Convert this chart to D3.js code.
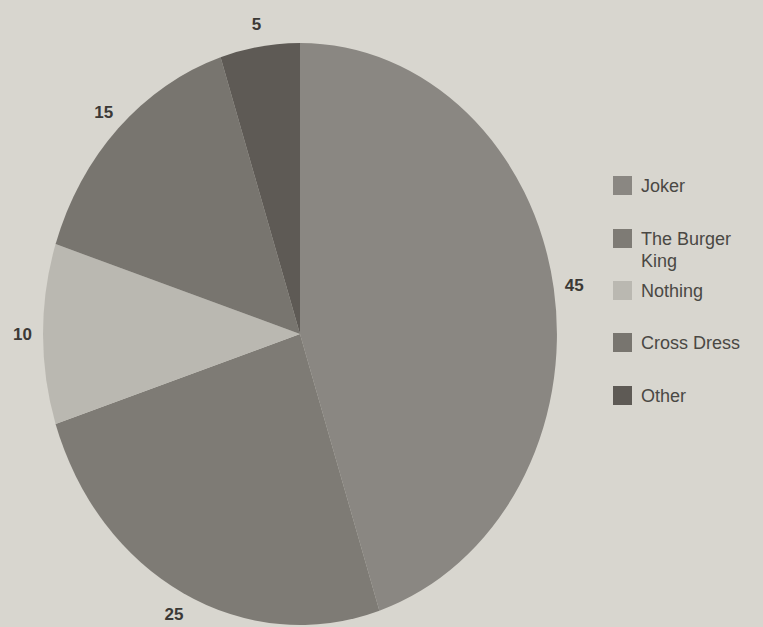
<!DOCTYPE html>
<html>
<head>
<meta charset="utf-8">
<script src="https://cdn.jsdelivr.net/npm/d3@7"></script>
<style>
  body { margin: 0; background: #d8d6cf; }
  svg { display: block; }
</style>
</head>
<body>
<div id="chart"></div>
<script>
var categories = ["Joker", "The Burger King", "Nothing", "Cross Dress", "Other"];
var values = [45, 25, 10, 15, 5];
var colors = ["#8a8782", "#7e7b75", "#bab8b1", "#78756f", "#5e5a55"];

var width = 763, height = 627;
var cx = 300, cy = 334, rx = 257, ry = 291;

var svg = d3.select("#chart").append("svg")
    .attr("width", width)
    .attr("height", height);

svg.append("rect")
    .attr("width", width)
    .attr("height", height)
    .attr("fill", "#d8d6cf");

var data = categories.map(function(c, i){ return {name: c, value: values[i], color: colors[i]}; });

var pie = d3.pie()
    .sort(null)
    .value(function(d){ return d.value; });

var arcs = pie(data);

// unit circle then stretched into an ellipse
var arc = d3.arc().innerRadius(0).outerRadius(1);

var g = svg.append("g")
    .attr("transform", "translate(" + cx + "," + cy + ") scale(" + rx + "," + ry + ")");

g.selectAll("path")
    .data(arcs)
    .enter()
    .append("path")
    .attr("d", arc)
    .attr("fill", function(d){ return d.data.color; });

// value labels outside the slices
var k = 1.08;
svg.selectAll("text.val")
    .data(arcs)
    .enter()
    .append("text")
    .attr("class", "val")
    .attr("x", function(d){
        var a = (d.startAngle + d.endAngle) / 2;
        return cx + Math.sin(a) * rx * k;
    })
    .attr("y", function(d){
        var a = (d.startAngle + d.endAngle) / 2;
        return Math.min(cy - Math.cos(a) * ry * k, height - 12);
    })
    .attr("dy", "0.35em")
    .attr("text-anchor", "middle")
    .style("font-family", "Liberation Sans, Arial, sans-serif")
    .style("font-weight", "bold")
    .style("font-size", "17px")
    .style("fill", "#3b3936")
    .text(function(d){ return d.data.value; });

// legend
var legendY = [176, 229, 281, 333, 386];
var legend = svg.selectAll("g.legend")
    .data(data)
    .enter()
    .append("g")
    .attr("class", "legend")
    .attr("transform", function(d, i){ return "translate(613," + legendY[i] + ")"; });

legend.append("rect")
    .attr("width", 19)
    .attr("height", 19)
    .attr("fill", function(d){ return d.color; });

legend.append("text")
    .attr("x", 28)
    .attr("y", 16)
    .style("font-family", "Liberation Sans, Arial, sans-serif")
    .style("font-size", "18px")
    .style("fill", "#4a4844")
    .each(function(d){
        var t = d3.select(this);
        var words = d.name === "The Burger King" ? ["The Burger", "King"] : [d.name];
        words.forEach(function(w, j){
            t.append("tspan").attr("x", 28).attr("dy", j === 0 ? 0 : 22).text(w);
        });
    });
</script>
</body>
</html>
